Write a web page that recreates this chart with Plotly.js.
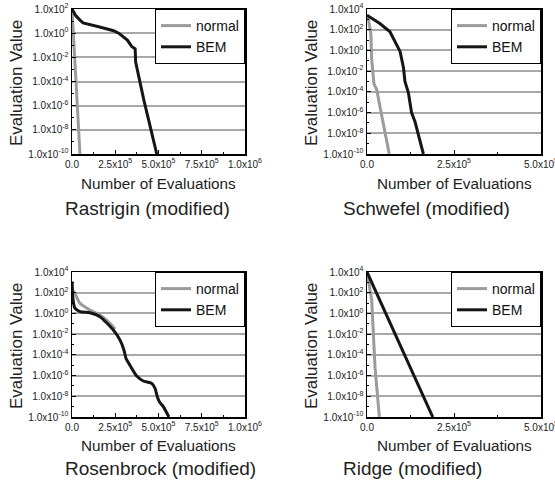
<!DOCTYPE html>
<html>
<head>
<meta charset="utf-8">
<script src="https://cdn.plot.ly/plotly-3.0.1.min.js"></script>
<style>html,body{margin:0;padding:0;background:#fff;}#chart{width:555px;height:485px;}</style>
</head>
<body>
<div id="chart"></div>
<script>
// ---------- Data ----------
const seriesNames = ["normal", "BEM"];
const panelTitles = ["Rastrigin (modified)", "Schwefel (modified)", "Rosenbrock (modified)", "Ridge (modified)"];
const xTitle = "Number of Evaluations";
const yTitle = "Evaluation Value";

// Rastrigin (modified)
const rastNormalX = [0, 2.0e4, 4.6e4];
const rastNormalY = [1e2, 1e-3, 1e-10];
const rastBemX = [0, 2.0e4, 4.6e4, 6.4e4, 1.6e5, 2.4e5, 2.7e5, 3.2e5, 3.45e5, 3.65e5, 3.68e5, 3.9e5, 4.15e5, 4.9e5];
const rastBemY = [1e2, 30, 12, 7, 3.2, 1.6, 1.0, 0.27, 0.08, 0.05, 4e-3, 1.3e-4, 3e-6, 1e-10];

// Schwefel (modified)
const schwNormalX = [0, 4e3, 1.1e4, 1.35e4, 2.0e4, 2.8e4, 3.7e4, 5.2e4, 6.4e4];
const schwNormalY = [1.6e3, 1e3, 45, 0.13, 6e-4, 1.6e-4, 4e-6, 1e-8, 1e-10];
const schwBemX = [0, 3.7e4, 6.6e4, 8.0e4, 9.5e4, 1.05e5, 1.09e5, 1.19e5, 1.28e5, 1.38e5, 1.62e5];
const schwBemY = [2.5e3, 400, 63, 8, 0.8, 0.02, 1e-3, 8e-5, 1e-6, 1.3e-7, 1e-10];

// Rosenbrock (modified)
const rosNormalX = [0, 5e3, 1.7e4, 4.6e4, 1.04e5, 1.62e5, 2.29e5, 2.49e5];
const rosNormalY = [1e3, 160, 87, 9.5, 2.1, 0.7, 0.076, 0.03];
const rosBemX = [0, 5e3, 1.7e4, 4.6e4, 1.04e5, 1.62e5, 2.39e5, 2.77e5, 3.0e5, 3.12e5, 3.35e5, 3.74e5, 4.12e5, 4.6e5, 4.8e5, 4.93e5, 5.05e5, 5.28e5, 5.6e5];
const rosBemY = [1.2e3, 30, 3.2, 1.5, 1.17, 0.49, 0.025, 2.8e-3, 3e-4, 4.7e-5, 1e-5, 9e-7, 3e-7, 1.8e-7, 5.9e-8, 9e-9, 3e-9, 1e-9, 1e-10];

// Ridge (modified)
const ridgeNormalX = [0, 1.35e4, 2.3e4, 3.55e4];
const ridgeNormalY = [1e4, 20, 7e-6, 1e-10];
const ridgeBemX = [0, 1.89e5];
const ridgeBemY = [1e4, 1e-10];

// Tick labels
const xTickVals1M = [0, 2.5e5, 5e5, 7.5e5, 1e6];
const xTickText1M = ["0.0", "2.5x10<sup>5</sup>", "5.0x10<sup>5</sup>", "7.5x10<sup>5</sup>", "1.0x10<sup>6</sup>"];
const xTickVals500k = [0, 2.5e5, 5e5];
const xTickText500k = ["0.0", "2.5x10<sup>5</sup>", "5.0x10<sup>5</sup>"];
const yExpA = [-10, -8, -6, -4, -2, 0, 2];
const yExpB = [-10, -8, -6, -4, -2, 0, 2, 4];

// ---------- Build ----------
const FONT = "Liberation Sans, Arial, sans-serif";
const GRAY = "#9b9b9b", BLACK = "#151515";

function yTicks(exps) {
  return {vals: exps.map(e => Math.pow(10, e)), text: exps.map(e => "1.0x10<sup>" + e + "</sup>")};
}

const panels = [
  {nx: rastNormalX, ny: rastNormalY, bx: rastBemX, by: rastBemY, xr: [0, 1e6], xt: [xTickVals1M, xTickText1M], ye: yExpA, shape: "linear"},
  {nx: schwNormalX, ny: schwNormalY, bx: schwBemX, by: schwBemY, xr: [0, 5e5], xt: [xTickVals500k, xTickText500k], ye: yExpB, shape: "linear"},
  {nx: rosNormalX, ny: rosNormalY, bx: rosBemX, by: rosBemY, xr: [0, 1e6], xt: [xTickVals1M, xTickText1M], ye: yExpB, shape: "spline"},
  {nx: ridgeNormalX, ny: ridgeNormalY, bx: ridgeBemX, by: ridgeBemY, xr: [0, 5e5], xt: [xTickVals500k, xTickText500k], ye: yExpB, shape: "linear"}
];

const W = 555, H = 485;
const xDom = [[72 / W, 245 / W], [367 / W, 541 / W]];
const yDom = [[1 - 154 / H, 1 - 9 / H], [1 - 417 / H, 1 - 272 / H]];

const traces = [];
const layout = {
  width: W, height: H,
  margin: {l: 0, r: 0, t: 0, b: 0},
  paper_bgcolor: "#fff", plot_bgcolor: "#fff",
  font: {family: FONT, color: "#222"},
  annotations: []
};

panels.forEach((p, i) => {
  const col = i % 2, row = Math.floor(i / 2);
  const sfx = i === 0 ? "" : String(i + 1);
  const lg = "legend" + sfx;
  const line = p.shape === "spline" ? {shape: "spline", smoothing: 0.6} : {shape: "linear"};
  traces.push({x: p.nx, y: p.ny, type: "scatter", mode: "lines", name: seriesNames[0],
    xaxis: "x" + sfx, yaxis: "y" + sfx, legend: lg,
    line: Object.assign({color: GRAY, width: 3}, line)});
  traces.push({x: p.bx, y: p.by, type: "scatter", mode: "lines", name: seriesNames[1],
    xaxis: "x" + sfx, yaxis: "y" + sfx, legend: lg,
    line: Object.assign({color: BLACK, width: 3}, line)});
  const yt = yTicks(p.ye);
  layout["xaxis" + sfx] = {
    domain: xDom[col], anchor: "y" + sfx, range: p.xr, type: "linear",
    showline: true, linecolor: "#000", linewidth: 1.5, mirror: true,
    showgrid: false, zeroline: false,
    tickmode: "array", tickvals: p.xt[0], ticktext: p.xt[1],
    ticks: "inside", ticklen: 4, tickwidth: 1, tickcolor: "#000",
    ticklabeloverflow: "allow",
    tickfont: {family: FONT, size: 10, color: "#222"},
    minor: {tickmode: "linear", tick0: 0, dtick: 1.25e5, ticks: "inside", ticklen: 2, tickcolor: "#000", showgrid: false},
    fixedrange: true
  };
  layout["yaxis" + sfx] = {
    domain: yDom[row], anchor: "x" + sfx, type: "log", range: [p.ye[0], p.ye[p.ye.length - 1]],
    showline: true, linecolor: "#000", linewidth: 1.5, mirror: true,
    showgrid: true, gridcolor: "#a8a8a8", gridwidth: 2, zeroline: false,
    tickmode: "array", tickvals: yt.vals, ticktext: yt.text,
    ticks: "inside", ticklen: 4, tickwidth: 1, tickcolor: "#000",
    ticklabeloverflow: "allow",
    tickfont: {family: FONT, size: 10, color: "#222"},
    minor: {tickmode: "linear", tick0: 0, dtick: 1, ticks: "inside", ticklen: 2, tickcolor: "#000", showgrid: false},
    fixedrange: true
  };
  layout[lg] = {
    x: xDom[col][1], xanchor: "right", y: yDom[row][1], yanchor: "top",
    bgcolor: "#fff", bordercolor: "#000", borderwidth: 1,
    font: {family: FONT, size: 14, color: "#111"},
    tracegroupgap: 0, itemwidth: 30
  };
  layout.annotations.push({
    text: yTitle, textangle: -90, xref: "paper", yref: "paper",
    x: (col === 0 ? 16 : 311) / W, y: (row === 0 ? 1 - 83 / H : 1 - 346 / H),
    xanchor: "center", yanchor: "middle", showarrow: false,
    font: {family: FONT, size: 17, color: "#222"}
  });
  layout.annotations.push({
    text: xTitle, xref: "paper", yref: "paper",
    x: (xDom[col][0] + xDom[col][1]) / 2, y: (row === 0 ? 1 - 183 / H : 1 - 445 / H),
    xanchor: "center", yanchor: "middle", showarrow: false,
    font: {family: FONT, size: 15.3, color: "#222"}
  });
  layout.annotations.push({
    text: panelTitles[i], xref: "paper", yref: "paper",
    x: (col === 0 ? 63 : 341) / W, y: (row === 0 ? 1 - 208 / H : 1 - 468 / H),
    xanchor: "left", yanchor: "middle", showarrow: false,
    font: {family: FONT, size: 19, color: "#222"}
  });
});

Plotly.newPlot("chart", traces, layout, {displayModeBar: false, staticPlot: true});
</script>
</body>
</html>
